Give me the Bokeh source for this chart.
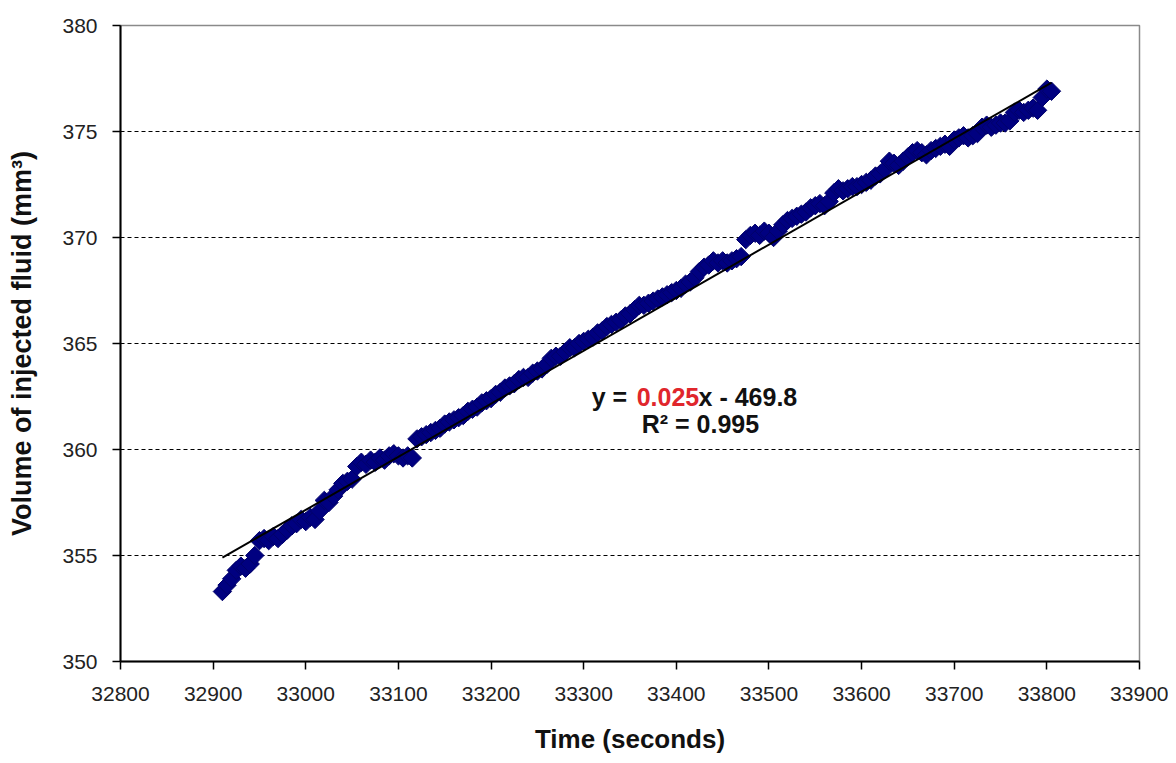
import numpy as np
from bokeh.plotting import figure
from bokeh.models import Range1d, FixedTicker, Label
from bokeh.embed import file_html
from bokeh.resources import INLINE

# ---------------- data ----------------
time_s = [
    32910, 32915, 32920, 32925, 32930, 32935, 32940, 32945, 32950, 32955,
    32960, 32965, 32970, 32975, 32980, 32985, 32990, 32995, 33000, 33005,
    33010, 33015, 33020, 33025, 33030, 33035, 33040, 33045, 33050, 33055,
    33060, 33065, 33070, 33075, 33080, 33085, 33090, 33095, 33100, 33105,
    33110, 33115, 33120, 33125, 33130, 33135, 33140, 33145, 33150, 33155,
    33160, 33165, 33170, 33175, 33180, 33185, 33190, 33195, 33200, 33205,
    33210, 33215, 33220, 33225, 33230, 33235, 33240, 33245, 33250, 33255,
    33260, 33265, 33270, 33275, 33280, 33285, 33290, 33295, 33300, 33305,
    33310, 33315, 33320, 33325, 33330, 33335, 33340, 33345, 33350, 33355,
    33360, 33365, 33370, 33375, 33380, 33385, 33390, 33395, 33400, 33405,
    33410, 33415, 33420, 33425, 33430, 33435, 33440, 33445, 33450, 33455,
    33460, 33465, 33470, 33475, 33480, 33485, 33490, 33495, 33500, 33505,
    33510, 33515, 33520, 33525, 33530, 33535, 33540, 33545, 33550, 33555,
    33560, 33565, 33570, 33575, 33580, 33585, 33590, 33595, 33600, 33605,
    33610, 33615, 33620, 33625, 33630, 33635, 33640, 33645, 33650, 33655,
    33660, 33665, 33670, 33675, 33680, 33685, 33690, 33695, 33700, 33705,
    33710, 33715, 33720, 33725, 33730, 33735, 33740, 33745, 33750, 33755,
    33760, 33765, 33770, 33775, 33780, 33785, 33790, 33795, 33800, 33805,
]
volume_mm3 = [
    353.3, 353.6, 353.9, 354.3, 354.5, 354.4, 354.6, 355.0, 355.7, 355.8,
    355.7, 355.9, 355.8, 356.0, 356.2, 356.4, 356.5, 356.7, 356.6, 356.8,
    356.7, 357.1, 357.6, 357.5, 357.8, 358.1, 358.4, 358.5, 358.6, 359.2,
    359.4, 359.3, 359.5, 359.4, 359.6, 359.5, 359.7, 359.8, 359.7, 359.6,
    359.7, 359.6, 360.5, 360.6, 360.7, 360.8, 360.9, 361.0, 361.2, 361.3,
    361.4, 361.5, 361.6, 361.8, 361.9, 362.0, 362.2, 362.3, 362.4, 362.6,
    362.7, 362.9, 363.0, 363.1, 363.3, 363.4, 363.4, 363.6, 363.7, 363.8,
    364.0, 364.3, 364.4, 364.4, 364.6, 364.8, 364.8, 365.0, 365.1, 365.2,
    365.3, 365.5, 365.6, 365.8, 365.9, 366.0, 366.1, 366.3, 366.4, 366.6,
    366.8, 366.8, 366.9, 367.0, 367.1, 367.2, 367.3, 367.4, 367.5, 367.6,
    367.8, 367.9, 368.1, 368.4, 368.6, 368.7, 368.9, 368.8, 368.9, 368.8,
    368.9, 369.0, 369.1, 369.9, 370.1, 370.2, 370.1, 370.3, 370.2, 370.0,
    370.3, 370.6, 370.8, 370.9, 371.0, 371.1, 371.2, 371.4, 371.5, 371.6,
    371.5, 371.7, 372.1, 372.3, 372.2, 372.3, 372.4, 372.4, 372.5, 372.6,
    372.7, 372.9, 373.0, 373.2, 373.6, 373.5, 373.4, 373.6, 373.8, 374.0,
    374.1, 374.0, 373.9, 374.1, 374.2, 374.3, 374.4, 374.3, 374.6, 374.7,
    374.8, 374.7, 374.8, 374.9, 375.2, 375.3, 375.2, 375.3, 375.4, 375.4,
    375.5, 375.9, 376.0, 375.9, 376.0, 376.1, 376.0, 376.6, 377.0, 376.9,
]
# linear trendline as drawn (end points)
trend_time = [32910, 33805]
trend_volume = [354.9, 377.3]

x_ticks = [32800, 32900, 33000, 33100, 33200, 33300, 33400, 33500, 33600, 33700, 33800, 33900]
y_ticks = [350, 355, 360, 365, 370, 375, 380]
grid_ticks = [355, 360, 365, 370, 375]

x_title = "Time (seconds)"
y_title = "Volume of injected fluid (mm³)"
eq_prefix = "y ="
eq_slope = "0.025"
eq_rest = "x  - 469.8"
r2_text = "R² = 0.995"

FONT = "Liberation Sans"

p = figure(
    frame_width=1019, frame_height=636,
    x_range=Range1d(32800, 33900), y_range=Range1d(350, 380),
    output_backend="svg", toolbar_location=None,
    min_border_left=120, min_border_right=29, min_border_top=25, min_border_bottom=98,
    background_fill_color="white", border_fill_color="white",
)
p.outline_line_color = "#8a8a8a"
p.outline_line_width = 1.5

# grid
p.xgrid.visible = False
p.ygrid.ticker = FixedTicker(ticks=grid_ticks)
p.ygrid.grid_line_color = "black"
p.ygrid.grid_line_width = 1
p.ygrid.grid_line_dash = "4 3"

# data
p.scatter(time_s, volume_mm3, marker="square", angle=np.pi / 4, size=13,
          fill_color="#000080", line_color="#00006a", line_width=1)
p.line(trend_time, trend_volume, line_color="black", line_width=2)

# axes
for ax in (p.xaxis[0], p.yaxis[0]):
    ax.axis_line_color = "black"
    ax.axis_line_width = 2
    ax.major_tick_line_color = "black"
    ax.major_tick_line_width = 1.5
    ax.major_tick_in = 0
    ax.major_tick_out = 8
    ax.minor_tick_line_color = None
    ax.major_label_text_font = FONT
    ax.major_label_text_font_size = "21px"
    ax.major_label_text_color = "#222222"
    ax.axis_label_text_font = FONT
    ax.axis_label_text_font_style = "bold"
    ax.axis_label_text_color = "#111111"

p.xaxis.ticker = FixedTicker(ticks=x_ticks)
p.yaxis.ticker = FixedTicker(ticks=y_ticks)
p.xaxis.axis_label = x_title
p.yaxis.axis_label = y_title
p.xaxis.axis_label_text_font_size = "26px"
p.yaxis.axis_label_text_font_size = "27px"
p.xaxis.major_label_standoff = 17
p.xaxis.axis_label_standoff = 20
p.yaxis.major_label_standoff = 15
p.yaxis.axis_label_standoff = 22

# equation annotation
common = dict(text_font=FONT, text_font_style="bold", text_font_size="25px",
              text_baseline="alphabetic")
p.add_layout(Label(x=33347, y=362.49, text=eq_prefix, text_align="right",
                   text_color="#111111", **common))
p.add_layout(Label(x=33391, y=362.49, text=eq_slope, text_align="center",
                   text_color="#e0262c", **common))
p.add_layout(Label(x=33424, y=362.49, text=eq_rest, text_align="left",
                   text_color="#111111", **common))
p.add_layout(Label(x=33426, y=361.21, text=r2_text, text_align="center",
                   text_color="#111111", **common))

open("out.html", "w").write(file_html(p, INLINE))
